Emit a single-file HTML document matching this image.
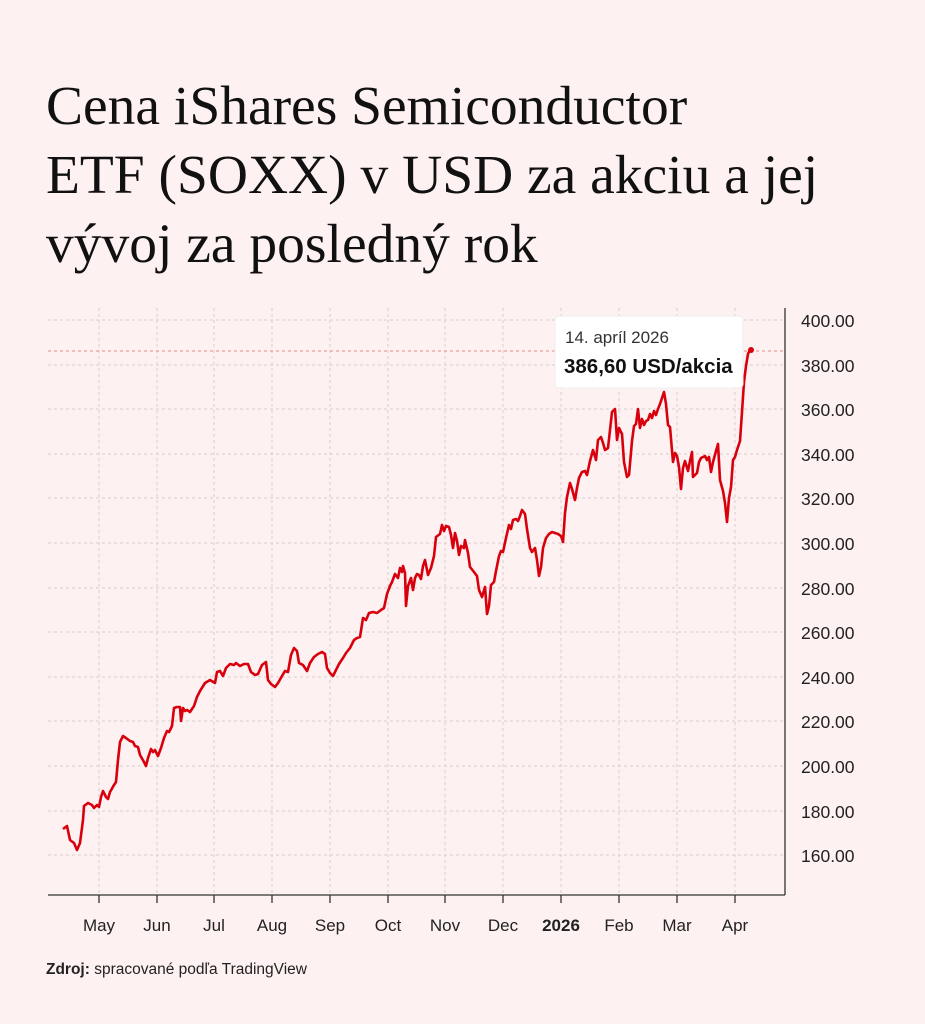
<!DOCTYPE html>
<html><head><meta charset="utf-8"><style>
body{margin:0;background:#fdf1f1;width:925px;height:1024px;overflow:hidden;font-family:"Liberation Sans",sans-serif}
.t{position:absolute;left:46px;top:72px;font-family:"Liberation Serif",serif;font-size:55.5px;line-height:69px;color:#111;margin:0;font-weight:normal;white-space:nowrap}
</style></head><body>
<h1 class="t">Cena iShares Semiconductor<br>ETF (SOXX) v USD za akciu a jej<br>vývoj za posledný rok</h1>
<svg width="925" height="1024" style="position:absolute;left:0;top:0" font-family="Liberation Sans, sans-serif">
<g stroke="#d8d0d0" stroke-dasharray="3,3" stroke-width="1">
<line x1="48" x2="785" y1="320" y2="320"/><line x1="48" x2="785" y1="365" y2="365"/><line x1="48" x2="785" y1="409" y2="409"/><line x1="48" x2="785" y1="454" y2="454"/><line x1="48" x2="785" y1="498" y2="498"/><line x1="48" x2="785" y1="543" y2="543"/><line x1="48" x2="785" y1="588" y2="588"/><line x1="48" x2="785" y1="632" y2="632"/><line x1="48" x2="785" y1="677" y2="677"/><line x1="48" x2="785" y1="721" y2="721"/><line x1="48" x2="785" y1="766" y2="766"/><line x1="48" x2="785" y1="811" y2="811"/><line x1="48" x2="785" y1="855" y2="855"/>
<line y1="308" y2="895" x1="99" x2="99"/><line y1="308" y2="895" x1="157" x2="157"/><line y1="308" y2="895" x1="214" x2="214"/><line y1="308" y2="895" x1="272" x2="272"/><line y1="308" y2="895" x1="330" x2="330"/><line y1="308" y2="895" x1="388" x2="388"/><line y1="308" y2="895" x1="445" x2="445"/><line y1="308" y2="895" x1="503" x2="503"/><line y1="308" y2="895" x1="561" x2="561"/><line y1="308" y2="895" x1="619" x2="619"/><line y1="308" y2="895" x1="677" x2="677"/><line y1="308" y2="895" x1="735" x2="735"/>
</g>
<line x1="48" x2="785" y1="351" y2="351" stroke="#e88" stroke-dasharray="3,3"/>
<g stroke="#333" stroke-width="1.3">
<line x1="48" x2="785" y1="895" y2="895"/><line x1="785" x2="785" y1="308" y2="895"/>
<line y1="895" y2="903" x1="99" x2="99"/><line y1="895" y2="903" x1="157" x2="157"/><line y1="895" y2="903" x1="214" x2="214"/><line y1="895" y2="903" x1="272" x2="272"/><line y1="895" y2="903" x1="330" x2="330"/><line y1="895" y2="903" x1="388" x2="388"/><line y1="895" y2="903" x1="445" x2="445"/><line y1="895" y2="903" x1="503" x2="503"/><line y1="895" y2="903" x1="561" x2="561"/><line y1="895" y2="903" x1="619" x2="619"/><line y1="895" y2="903" x1="677" x2="677"/><line y1="895" y2="903" x1="735" x2="735"/>
</g>
<g font-size="17.5" fill="#222">
<text x="801" y="327">400.00</text><text x="801" y="372">380.00</text><text x="801" y="416">360.00</text><text x="801" y="461">340.00</text><text x="801" y="505">320.00</text><text x="801" y="550">300.00</text><text x="801" y="595">280.00</text><text x="801" y="639">260.00</text><text x="801" y="684">240.00</text><text x="801" y="728">220.00</text><text x="801" y="773">200.00</text><text x="801" y="818">180.00</text><text x="801" y="862">160.00</text>
</g>
<g font-size="17" fill="#222" text-anchor="middle">
<text x="99" y="931">May</text><text x="157" y="931">Jun</text><text x="214" y="931">Jul</text><text x="272" y="931">Aug</text><text x="330" y="931">Sep</text><text x="388" y="931">Oct</text><text x="445" y="931">Nov</text><text x="503" y="931">Dec</text><text x="561" y="931" font-weight="bold">2026</text><text x="619" y="931">Feb</text><text x="677" y="931">Mar</text><text x="735" y="931">Apr</text>
</g>
<polyline fill="none" stroke="#d9000d" stroke-width="2.6" stroke-linejoin="round" points="63,829 67,826 70,840 74,843 77,850 80,843 83,820 84,806 88,803 92,805 94,808 97,805 99,807 101,797 103,791 106,797 108,799 110,792 114,785 116,782 118,760 120,742 123,736 126,738 130,741 133,742 135,746 138,747 140,755 144,762 146,766 148,758 151,749 153,752 155,750 156,752 158,756 161,748 164,738 167,731 169,732 172,726 174,708 177,707 180,707 181,721 183,708 185,711 187,710 190,712 194,706 197,697 200,691 205,683 210,680 215,683 217,672 220,671 223,676 226,668 230,664 234,665 236,663 240,666 244,664 248,664 251,672 255,675 258,674 262,665 266,662 268,680 271,684 275,687 278,683 282,676 285,671 288,672 291,655 294,648 297,651 299,663 303,665 307,671 310,663 314,657 318,654 322,652 325,654 327,668 330,673 333,676 336,670 339,664 343,658 346,653 350,648 354,640 357,638 360,637 363,618 366,620 369,613 373,612 377,613 381,610 384,608 387,594 390,586 392,582 395,574 398,578 400,568 402,572 403,566 405,573 406,606 408,586 411,578 413,590 415,578 417,574 419,575 421,579 423,566 425,560 428,575 431,568 434,556 436,537 440,534 442,525 444,531 446,526 449,527 451,535 453,548 455,533 457,541 459,555 461,546 464,548 465,540 468,553 470,567 474,572 477,576 479,590 482,597 485,587 487,614 489,606 491,585 494,582 496,571 499,556 501,551 503,552 506,538 509,525 511,529 513,520 516,519 518,521 520,516 522,510 525,514 527,529 530,548 532,552 535,548 537,560 539,576 541,567 543,548 546,538 549,534 552,532 555,533 558,534 561,536 563,542 565,513 567,497 570,483 572,489 575,500 577,488 579,478 582,472 585,471 587,475 590,461 593,450 596,460 598,440 601,437 603,443 605,450 608,448 610,430 612,412 615,409 617,440 619,428 622,434 624,462 627,477 629,475 632,441 634,426 636,424 638,409 640,428 642,419 644,425 646,421 648,420 650,414 652,418 654,411 656,415 658,409 660,404 662,398 664,392 666,404 668,425 670,427 673,462 675,453 677,456 679,467 681,489 683,468 685,461 688,471 690,461 692,452 693,477 697,473 699,462 701,458 705,456 707,460 709,457 711,472 713,462 716,451 718,444 720,480 723,491 725,503 727,522 729,498 731,487 733,460 735,457 737,450 740,441 742,412 744,382 746,366 748,354 750,350 752,352"/>
<circle cx="751" cy="350" r="3" fill="#d9000d"/>
<rect x="555" y="316" width="188" height="72" rx="4" fill="#fff" stroke="#eee"/>
<text x="565" y="343" font-size="17" fill="#333">14. apríl 2026</text>
<text x="564" y="373" font-size="20.5" font-weight="bold" fill="#111">386,60 USD/akcia</text>
<text x="46" y="974" font-size="15.5" fill="#222"><tspan font-weight="bold">Zdroj:</tspan> spracované podľa TradingView</text>
</svg>
</body></html>
